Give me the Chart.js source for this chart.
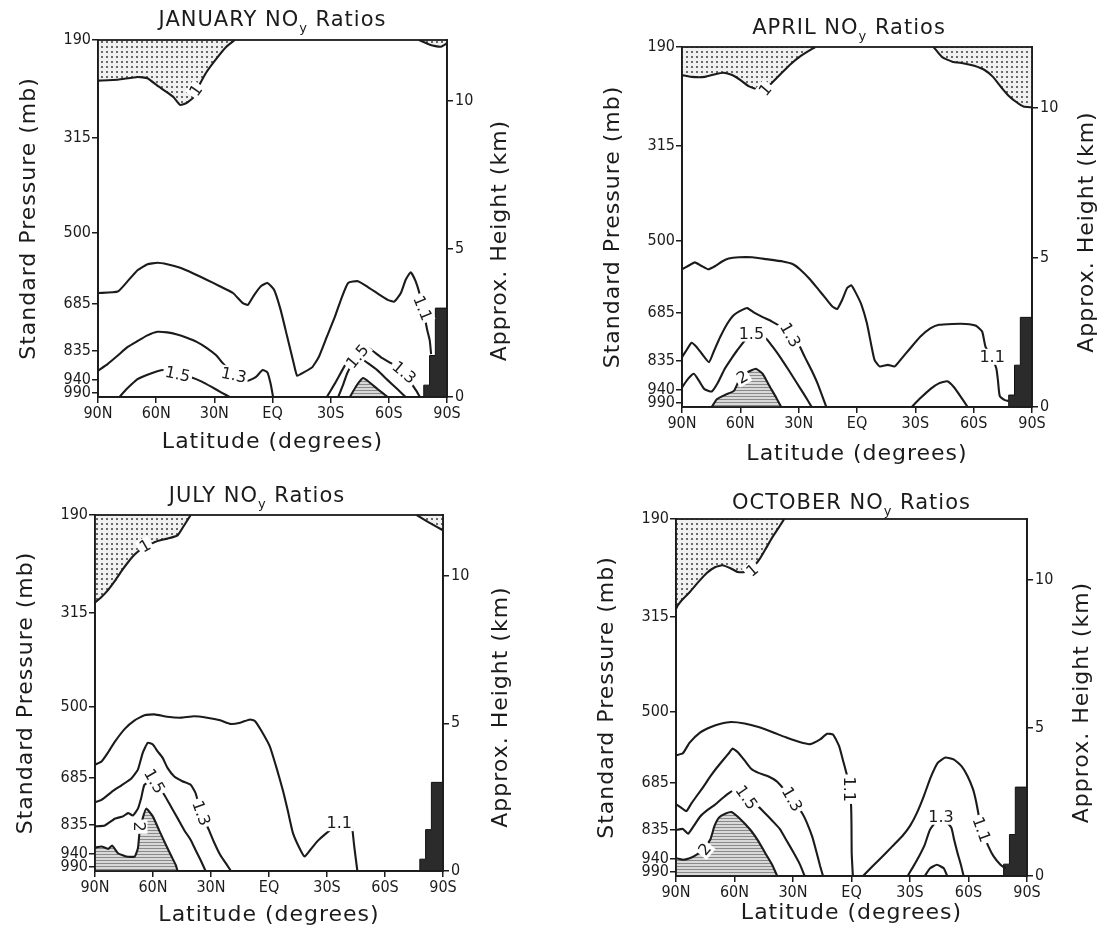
<!DOCTYPE html>
<html><head><meta charset="utf-8">
<script src="https://cdn.jsdelivr.net/npm/chart.js@4.4.1/dist/chart.umd.min.js"></script>
<style>
html,body{margin:0;padding:0;background:#fff;}
#wrap{position:relative;width:1100px;height:934px;overflow:hidden;background:#fff;}
canvas{position:absolute;}
</style></head><body><div id="wrap">
<canvas id="c1" width="550" height="467" style="left:0;top:0"></canvas>
<canvas id="c2" width="550" height="467" style="left:550px;top:0"></canvas>
<canvas id="c3" width="550" height="467" style="left:0;top:467px"></canvas>
<canvas id="c4" width="550" height="467" style="left:550px;top:467px"></canvas>
</div>
<script>
// ---------- shared axis data ----------
const latTicks = [90, 60, 30, 0, -30, -60, -90];
const latTickLabels = ['90N', '60N', '30N', 'EQ', '30S', '60S', '90S'];
const pressureLabels = ['190', '315', '500', '685', '835', '940', '990'];
const pressureKm = [12.05, 8.75, 5.55, 3.15, 1.55, 0.57, 0.15];
const heightTicks = [0, 5, 10];
const kmTop = 12.05;
const topoLat = [-78, -78, -81, -81, -84, -84, -90];
const topoKm = [0, 0.4, 0.4, 1.4, 1.4, 3.0, 3.0];

// ---------- JANUARY contours [lat, km] ----------
const jan_1 = [[90,10.68],[79.8,10.71],[69.6,10.8],[64.5,10.76],[59.4,10.51],[54.3,10.28],[50.9,10.11],[47.6,9.86],[44.2,9.93],[40.8,10.11],[37.4,10.57],[34.0,10.97],[28.9,11.42],[23.8,11.82],[19.5,12.05]];
const jan_1s = [[-75.5,12.05],[-81.5,11.88],[-86.6,11.82],[-90,11.94]];
const jan_11 = [[90,3.51],[79.8,3.56],[74.7,3.91],[69.6,4.28],[64.5,4.48],[59.4,4.53],[54.3,4.48],[47.6,4.36],[40.8,4.17],[34.0,3.96],[27.2,3.74],[20.4,3.51],[15.3,3.17],[12.7,3.11],[9.4,3.45],[6.0,3.74],[2.6,3.85],[-0.8,3.62],[-4.2,2.94],[-7.6,2.03],[-11.0,1.12],[-12.7,0.72],[-16.1,0.83],[-20.4,1.0],[-23.8,1.34],[-28.0,2.03],[-32.2,2.71],[-35.6,3.34],[-39.0,3.85],[-44.1,3.91],[-49.2,3.71],[-54.3,3.49],[-59.4,3.28],[-62.8,3.22],[-66.2,3.51],[-68.7,3.96],[-71.3,4.21],[-73.8,3.91],[-76.0,3.45],[-78.1,2.82],[-79.8,2.26],[-81.1,1.91],[-81.8,1.45]];
const jan_13 = [[90,0.89],[84.9,1.12],[79.8,1.40],[74.7,1.69],[69.6,1.89],[64.5,2.08],[59.4,2.20],[54.3,2.18],[49.2,2.11],[44.2,2.0],[39.1,1.86],[34.0,1.66],[28.9,1.40],[26.8,1.23],[20.0,0.75],[12.7,0.55],[8.5,0.68],[5.1,0.91],[2.6,0.83],[0.9,0.43],[-0.3,0]];
const jan_15 = [[79.0,0],[74.7,0.30],[69.6,0.60],[64.5,0.75],[59.4,0.87],[56.0,0.91],[48.9,0.78],[41.6,0.66],[36.5,0.52],[31.4,0.34],[26.3,0.15],[22.1,0]];
const jan_13r = [[-28.0,0],[-32.2,0.46],[-37.3,1.06],[-41.6,1.48],[-45.8,1.74],[-50.1,1.63],[-56.0,1.34],[-61.1,1.14],[-67.9,0.83],[-71.3,0.49],[-74.3,0.2],[-76.0,0]];
const jan_15r = [[-33.9,0],[-36.5,0.43],[-38.7,0.83],[-43.8,1.37],[-49.2,1.14],[-54.3,0.89],[-59.4,0.57],[-64.5,0.26],[-68.7,0]];
const jan_2r = [[-39.9,0],[-43.3,0.38],[-46.7,0.64],[-50.1,0.49],[-54.3,0.26],[-59.4,0]];
const janLabels = [['1',39.5,10.35,-55],['1.5',48.9,0.77,12],['1.3',20.0,0.74,12],['1.5',-43.8,1.37,-50],['1.3',-67.9,0.83,40],['1.1',-77.4,3.0,68]];

// ---------- APRIL contours ----------
const apr_1 = [[90,11.11],[85.1,11.05],[78.2,11.05],[72.9,11.14],[68.6,11.19],[64.2,11.11],[59.9,10.94],[55.5,10.73],[50.6,10.63],[47.1,10.69],[44.2,10.82],[39.8,11.11],[34.6,11.45],[29.4,11.73],[21.5,12.05]];
const apr_1r = [[-39.4,12.05],[-43.8,11.71],[-49.0,11.56],[-55.1,11.50],[-60.3,11.42],[-65.6,11.28],[-69.9,11.05],[-74.3,10.69],[-77.8,10.43],[-82.1,10.2],[-85.6,10.06],[-90,10.03]];
const apr_11 = [[90,4.61],[86.9,4.72],[83.4,4.84],[79.9,4.72],[76.4,4.61],[72.9,4.72],[69.4,4.87],[66.0,4.97],[60.7,5.01],[53.8,5.01],[46.8,4.95],[38.1,4.87],[32.9,4.78],[29.4,4.61],[24.1,4.27],[19.8,3.93],[16.3,3.65],[12.8,3.37],[10.2,3.28],[7.6,3.59],[5.0,3.99],[2.9,4.07],[0.6,3.82],[-2.3,3.42],[-5.1,2.80],[-7.2,2.12],[-9.0,1.58],[-11.6,1.36],[-15.9,1.41],[-19.4,1.36],[-22.9,1.62],[-27.2,1.95],[-32.5,2.35],[-37.7,2.63],[-42.1,2.75],[-49.0,2.78],[-56.0,2.78],[-61.2,2.72],[-64.4,2.52],[-66.1,2.01],[-69.5,1.65],[-71.7,1.28],[-72.5,0.88],[-73.4,0.37],[-76.0,0.23],[-78,0.2]];
const apr_13 = [[90,1.67],[87.7,1.90],[85.1,2.15],[82.5,2.01],[79.9,1.79],[76.1,1.50],[73.4,1.90],[70.3,2.35],[66.8,2.78],[63.3,3.08],[59.0,3.25],[56.4,3.31],[52.9,3.16],[48.5,3.01],[43.7,2.86],[39.8,2.71],[34.3,2.41],[30.2,2.12],[26.8,1.67],[23.3,1.22],[19.8,0.71],[15.8,0]];
const apr_15 = [[90,0.66],[86.9,0.94],[83.9,1.11],[81.3,0.88],[78.5,0.60],[74.7,0.52],[71.5,0.82],[68.0,1.28],[64.6,1.62],[61.6,1.90],[54.3,2.46],[46.8,2.29],[43.3,2.01],[39.0,1.62],[35.0,1.22],[31.1,0.82],[27.3,0.43],[23.3,0]];
const apr_2 = [[74.7,0],[72.1,0.26],[67.7,0.41],[63.3,0.54],[60.7,0.88],[56.4,1.16],[52.0,1.28],[48.5,1.11],[45.1,0.71],[41.6,0.32],[39.0,0]];
const apr_13r = [[-28.1,0],[-32.5,0.29],[-37.7,0.60],[-42.1,0.79],[-46.4,0.86],[-49.9,0.66],[-53.4,0.34],[-56.9,0]];
const aprLabels = [['1',47.1,10.62,-50],['1.5',54.3,2.46,0],['1.3',34.3,2.41,60],['2',59.0,1.0,-30],['1.1',-69.5,1.68,0]];

// ---------- JULY contours ----------
const jul_1 = [[90,9.09],[86.9,9.26],[83.5,9.49],[79.8,9.81],[76.3,10.15],[72.9,10.45],[69.5,10.71],[65.3,10.94],[61.8,11.05],[57.6,11.17],[52.5,11.25],[47.3,11.36],[43.6,11.73],[40.5,12.05]];
const jul_1r = [[-76.4,12.05],[-82.4,11.81],[-87.5,11.62],[-90,11.53]];
const jul_11 = [[90,3.60],[86.6,3.71],[83.2,4.02],[79.8,4.37],[74.6,4.81],[69.5,5.10],[64.4,5.27],[59.3,5.30],[52.5,5.22],[45.6,5.19],[38.8,5.24],[32.0,5.19],[25.2,5.10],[20.0,4.98],[14.9,5.02],[9.8,5.13],[7.2,5.07],[3.8,4.73],[-0.4,4.22],[-3.9,3.49],[-7.3,2.70],[-9.8,2.02],[-12.4,1.28],[-15.8,0.77],[-18.4,0.49],[-21.3,0.71],[-25.2,1.02],[-29.1,1.25],[-36.3,1.62],[-42.3,1.79],[-43.1,1.45],[-44.0,0.88],[-45.7,0]];
const jul_13 = [[90,2.33],[86.6,2.41],[81.5,2.67],[76.3,2.90],[71.2,3.13],[67.8,3.43],[65.3,4.00],[62.7,4.34],[60.1,4.28],[57.6,4.05],[55.0,3.83],[52.5,3.49],[49.0,3.20],[44.8,3.04],[40.5,2.92],[38.0,2.64],[35.1,1.96],[31.1,1.39],[28.6,1.00],[25.2,0.54],[21.7,0.20],[19.7,0]];
const jul_15 = [[90,1.51],[84.9,1.54],[79.8,1.77],[75.5,1.85],[72.9,1.96],[70.4,1.88],[67.8,2.11],[66.1,2.47],[64.4,2.92],[59.3,3.04],[54.2,2.58],[50.8,2.19],[47.3,1.79],[43.9,1.39],[40.5,1.05],[38.0,0.71],[35.4,0.37],[32.8,0]];
const jul_2 = [[90,0.79],[86.6,0.83],[83.2,0.75],[81.1,0.86],[78.1,0.60],[73.8,0.49],[69.5,0.49],[67.8,0.77],[67.0,1.28],[65.3,1.79],[63.5,2.11],[60.1,1.85],[56.7,1.36],[53.3,0.88],[50.4,0.49],[48.2,0.20],[47.3,0]];
const jul_25 = [[69.5,0],[67.0,0.2],[63.5,0.26],[60.1,0.15],[58.9,0]];
const julLabels = [['1',64.1,11.0,-30],['1.5',59.3,3.04,60],['1.3',35.1,1.96,70],['2',67.0,1.5,90],['1.1',-36.3,1.62,0]];

// ---------- OCTOBER contours ----------
const oct_1 = [[90,9.01],[89.1,9.13],[86.5,9.35],[83.0,9.58],[78.6,9.92],[74.2,10.23],[69.8,10.43],[66.2,10.49],[61.8,10.38],[58.3,10.26],[54.8,10.26],[50.4,10.43],[46.9,10.72],[44.2,11.02],[40.7,11.42],[37.2,11.77],[34.5,12.05]];
const oct_11 = [[90,4.07],[86.5,4.14],[83.0,4.50],[77.7,4.84],[72.4,5.02],[67.1,5.14],[61.8,5.20],[54.8,5.15],[47.7,5.03],[40.7,4.86],[33.7,4.68],[26.6,4.52],[21.3,4.45],[16.1,4.61],[12.5,4.80],[9.4,4.77],[6.4,4.39],[4.1,3.84],[2.3,3.39],[1.1,2.93],[0.2,2.36],[0.0,1.68],[-0.1,0.77],[-0.7,0]];
const oct_11r = [[-5.9,0],[-10.4,0.30],[-15.6,0.64],[-20.9,1.0],[-26.2,1.36],[-30.1,1.70],[-33.6,2.14],[-37.1,2.70],[-40.6,3.33],[-44.2,3.82],[-48.2,4.0],[-52.6,3.93],[-56.5,3.70],[-59.6,3.36],[-62.3,2.93],[-64.0,2.48],[-66.7,1.57],[-70.2,1.0],[-72.9,0.66],[-76.4,0.38],[-79.0,0.26]];
const oct_13r = [[-28.8,0],[-31.5,0.30],[-34.6,0.66],[-37.6,1.06],[-40.3,1.57],[-45.9,2.0],[-51.2,1.63],[-52.6,1.23],[-54.4,0.77],[-56.1,0.38],[-57.5,0]];
const oct_15r = [[-37.6,0],[-40.3,0.26],[-43.8,0.38],[-47.3,0.26],[-49.1,0]];
const oct_13 = [[90,2.42],[87.4,2.31],[84.7,2.19],[82.1,2.45],[79.4,2.70],[75.9,3.02],[72.4,3.36],[68.9,3.67],[65.4,3.95],[62.7,4.16],[61.0,4.30],[58.3,4.18],[54.8,3.90],[51.3,3.61],[47.7,3.48],[42.5,3.36],[38.1,3.18],[30.5,2.59],[25.2,2.11],[22.7,1.77],[20.1,1.32],[17.8,0.77],[16.1,0.34],[14.6,0]];
const oct_15 = [[90,1.55],[86.5,1.59],[83.8,1.43],[80.8,1.70],[77.7,2.0],[73.8,2.23],[70.3,2.39],[66.8,2.59],[63.2,2.78],[60.1,2.90],[53.9,2.65],[47.7,2.34],[44.2,2.11],[40.4,1.85],[36.8,1.59],[33.3,1.20],[29.8,0.80],[26.6,0.41],[24.0,0]];
const oct_2 = [[90,0.60],[86.5,0.55],[83.0,0.60],[79.4,0.72],[75.9,0.91],[72.4,1.23],[70.3,1.68],[68.0,1.97],[64.5,2.11],[61.5,2.16],[58.3,2.0],[54.8,1.77],[51.3,1.51],[47.7,1.17],[44.2,0.77],[40.7,0.38],[38.1,0]];
const oct_25 = [[71.5,0],[68.5,0.30],[65.0,0.43],[61.0,0.52],[56.5,0.49],[52.1,0.38],[48.1,0.20],[45.6,0]];
const octLabels = [['1',50.9,10.32,-40],['1.1',1.1,2.93,90],['1.5',53.9,2.65,55],['1.3',30.5,2.59,60],['2',75.2,0.9,-50],['1.3',-45.9,2.0,0],['1.1',-66.7,1.57,70]];

// ---------- patterns ----------
function makePattern(kind) {
  const c = document.createElement('canvas');
  const g = c.getContext('2d');
  if (kind === 'dots') {
    c.width = 5; c.height = 5;
    g.fillStyle = '#f1f1f1'; g.fillRect(0, 0, 5, 5);
    g.fillStyle = '#6a6a6a'; g.fillRect(1, 1, 2, 2);
  } else {
    c.width = 4; c.height = 3;
    g.fillStyle = '#d9d9d9'; g.fillRect(0, 0, 4, 3);
    g.fillStyle = '#8a8a8a'; g.fillRect(0, 0, 4, 1);
  }
  return g.createPattern(c, 'repeat');
}
const dotFill = makePattern('dots');
const hatchFill = makePattern('hatch');

const INK = '#1b1b1b';
const TICKFONT = '"DejaVu Sans Condensed", "Liberation Sans Narrow", "DejaVu Sans", sans-serif';
const TEXTFONT = '"DejaVu Sans", sans-serif';

function line(pts, fill, bg) {
  return {
    data: pts.map(p => ({x: p[0], y: p[1]})),
    showLine: true, pointRadius: 0, borderColor: INK, borderWidth: 2.1,
    tension: 0.15, fill: fill || false, backgroundColor: bg || 'transparent'
  };
}
function topo() {
  return {
    data: topoLat.map((v, i) => ({x: v, y: topoKm[i]})),
    showLine: true, pointRadius: 0, borderColor: '#111', borderWidth: 1,
    tension: 0, fill: 'start', backgroundColor: '#2b2b2b'
  };
}

function drawRot(ctx, text, x, y, rot) {
  ctx.save(); ctx.translate(x, y); ctx.rotate(rot * Math.PI / 180);
  ctx.fillText(text, 0, 0); ctx.restore();
}

const decor = {
  id: 'decor',
  afterDatasetsDraw(chart) {
    const p = chart.options.plugins.decor;
    const {ctx, chartArea: a} = chart;
    const xs = chart.scales.x, ys = chart.scales.y;
    ctx.save();
    ctx.font = '16px ' + TEXTFONT;
    ctx.textAlign = 'center'; ctx.textBaseline = 'middle';
    for (const L of p.labels) {
      const px = xs.getPixelForValue(L[1]), py = ys.getPixelForValue(L[2]);
      ctx.save(); ctx.translate(px, py); ctx.rotate(L[3] * Math.PI / 180);
      const w = ctx.measureText(L[0]).width;
      ctx.fillStyle = '#fff'; ctx.fillRect(-w / 2 - 2, -8, w + 4, 16);
      ctx.fillStyle = INK; ctx.fillText(L[0], 0, 1);
      ctx.restore();
    }
    ctx.strokeStyle = INK; ctx.lineWidth = 1.8;
    ctx.strokeRect(a.left, a.top, a.right - a.left, a.bottom - a.top);
    ctx.restore();
  },
  afterDraw(chart) {
    const p = chart.options.plugins.decor;
    const {ctx, chartArea: a} = chart;
    const cx = (a.left + a.right) / 2, cy = (a.top + a.bottom) / 2;
    ctx.save();
    ctx.fillStyle = INK;
    ctx.letterSpacing = '1px';
    ctx.textBaseline = 'middle';
    // panel title with subscript
    const fBig = '21px ' + TEXTFONT, fSub = '13px ' + TEXTFONT;
    const s1 = p.month + ' NO', s2 = 'y', s3 = ' Ratios';
    ctx.font = fBig; const w1 = ctx.measureText(s1).width, w3 = ctx.measureText(s3).width;
    ctx.font = fSub; const w2 = ctx.measureText(s2).width;
    let x0 = cx + p.titleDx - (w1 + w2 + w3) / 2;
    const ty = a.top - p.titleDy;
    ctx.textAlign = 'left';
    ctx.font = fBig; ctx.fillText(s1, x0, ty);
    ctx.font = fSub; ctx.fillText(s2, x0 + w1, ty + 8);
    ctx.font = fBig; ctx.fillText(s3, x0 + w1 + w2, ty);
    // axis titles
    ctx.textAlign = 'center';
    ctx.font = '22px ' + TEXTFONT;
    ctx.fillText('Latitude (degrees)', cx, a.bottom + p.xTitleDy);
    drawRot(ctx, 'Standard Pressure (mb)', a.left - 69, cy, -90);
    drawRot(ctx, 'Approx. Height (km)', a.right + p.rTitleDx, cy + p.rTitleDy, -90);
    ctx.restore();
  }
};

function makeChart(id, spec) {
  const tickFont = {family: TICKFONT, size: 16};
  const grid = {display: true, drawOnChartArea: false, drawTicks: true, tickLength: 6, color: INK, lineWidth: 1.5};
  const border = {display: true, color: INK, width: 1.8};
  return new Chart(document.getElementById(id), {
    type: 'scatter',
    data: {datasets: spec.datasets},
    options: {
      responsive: false, animation: false, devicePixelRatio: 1,
      layout: {padding: {top: spec.top, left: 0, right: 0, bottom: 0}},
      plugins: {legend: {display: false}, tooltip: {enabled: false}, title: {display: false},
        decor: {labels: spec.labels, month: spec.month, titleDx: spec.titleDx, titleDy: spec.titleDy,
          xTitleDy: spec.xTitleDy, rTitleDx: spec.rTitleDx, rTitleDy: spec.rTitleDy}},
      scales: {
        x: {type: 'linear', min: -90, max: 90, reverse: true, position: 'bottom',
          afterBuildTicks: ax => { ax.ticks = latTicks.map(v => ({value: v})); },
          afterFit: ax => { ax.height = spec.xh; },
          ticks: {autoSkip: false, maxRotation: 0, padding: 1, color: INK, font: tickFont,
            callback: v => latTickLabels[latTicks.indexOf(v)]},
          grid: grid, border: border},
        y: {type: 'linear', min: 0, max: kmTop, position: 'left',
          afterBuildTicks: ax => { ax.ticks = pressureKm.map(v => ({value: v})); },
          afterFit: ax => { ax.width = spec.left; },
          ticks: {autoSkip: false, padding: 1, color: INK, font: tickFont,
            callback: v => pressureLabels[pressureKm.indexOf(v)]},
          grid: grid, border: border},
        y2: {type: 'linear', min: 0, max: kmTop, position: 'right',
          afterBuildTicks: ax => { ax.ticks = heightTicks.map(v => ({value: v})); },
          afterFit: ax => { ax.width = spec.rw; },
          ticks: {autoSkip: false, padding: 2, color: INK, font: tickFont},
          grid: grid, border: border}
      }
    },
    plugins: [decor]
  });
}

makeChart('c1', {month: 'JANUARY', left: 98, rw: 103, top: 40, xh: 70, titleDx: 0, titleDy: 19, xTitleDy: 45, rTitleDx: 53, rTitleDy: 22,
  labels: janLabels,
  datasets: [line(jan_1, 'end', dotFill), line(jan_1s, 'end', dotFill), line(jan_2r, 'start', hatchFill),
    line(jan_11), line(jan_13), line(jan_15), line(jan_13r), line(jan_15r), topo()]});
makeChart('c2', {month: 'APRIL', left: 132, rw: 68, top: 47, xh: 60, titleDx: -8, titleDy: 18, xTitleDy: 47, rTitleDx: 55, rTitleDy: 5,
  labels: aprLabels,
  datasets: [line(apr_1, 'end', dotFill), line(apr_1r, 'end', dotFill), line(apr_2, 'start', hatchFill),
    line(apr_11), line(apr_13), line(apr_15), line(apr_13r), topo()]});
makeChart('c3', {month: 'JULY', left: 95, rw: 107, top: 48, xh: 63, titleDx: -12, titleDy: 18, xTitleDy: 44, rTitleDx: 58, rTitleDy: 14,
  labels: julLabels,
  datasets: [line(jul_1, 'end', dotFill), line(jul_1r, 'end', dotFill), line(jul_2, 'start', hatchFill),
    line(jul_25), line(jul_11), line(jul_13), line(jul_15), topo()]});
makeChart('c4', {month: 'OCTOBER', left: 126, rw: 73, top: 52, xh: 58, titleDx: 0, titleDy: 15, xTitleDy: 37, rTitleDx: 55, rTitleDy: 5,
  labels: octLabels,
  datasets: [line(oct_1, 'end', dotFill), line(oct_2, 'start', hatchFill), line(oct_25),
    line(oct_11), line(oct_11r), line(oct_13), line(oct_15), line(oct_13r), line(oct_15r), topo()]});
</script>
</body></html>
